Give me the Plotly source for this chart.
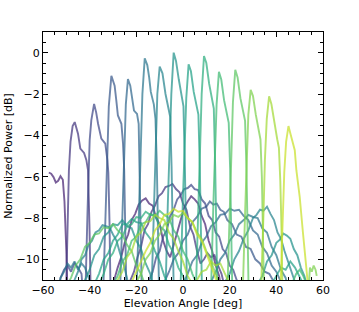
import plotly.graph_objects as go
from plotly.colors import sample_colorscale

# ---- data (angle [deg], normalized power [dB]) ----
ang_b00 = [-57.5, -56.5, -55.5, -54.5, -53.5, -52.5, -51.5, -50.8, -50.0, -49.4,
           -31, -29.5, -28, -26.5, -25, -23.5, -22, -20.5, -19, -17.5, -16, -14.5, -13, -11.5, -10, -8.5, -7, -5.5, -4, -2.5,
           -1, 0.5, 2, 3.5, 5, 6.5, 8, 9.5, 11, 12.5, 14, 15.5, 17]
pwr_b00 = [-5.80, -5.86, -6.02, -6.28, -6.20, -5.98, -6.15, -7.2, -9.6, -12,
           -12, -11.0, -10.4, -9.9, -9.2, -8.8, -8.1, -7.8, -7.35, -7.15, -7.05, -7.3, -7.4, -8.0, -8.3, -9.1, -9.6, -9.9, -9.3, -8.7,
           -8.0, -7.5, -7.2, -6.95, -7.1, -7.3, -7.9, -8.3, -9.1, -9.6, -10.3, -10.8, -12]

ang_b01 = [-50.2, -49.5, -48.9, -48.2, -47.3, -46.4, -45.7, -45.0, -44.0, -43.2, -42.4, -41.4, -40.7, -40.1, -39.5,
           -24, -22.5, -21, -19.5, -18, -16.5, -15, -13.5, -12, -10.5, -9, -7.5, -6, -4.5, -3, -1.5, 0, 1.5, 3, 4.5,
           6, 7.5, 9, 10.5, 12, 13.5, 15, 16.5, 18, 20]
pwr_b01 = [-12, -8.2, -5.7, -4.3, -3.55, -3.36, -3.6, -3.92, -4.64, -4.75, -4.85, -5.2, -5.7, -8.3, -12,
           -12, -11.0, -10.6, -9.9, -9.4, -8.6, -8.3, -7.7, -7.4, -6.95, -6.8, -6.5, -6.45, -6.35, -6.6, -6.75, -7.3, -7.6, -8.4, -8.8,
           -9.6, -10.2, -10.0, -9.7, -9.9, -9.8, -10.3, -10.7, -11.4, -12]

ang_b02 = [-54, -52.5, -51, -49.5, -48, -46.5, -45, -43.5, -42.6,
           -41.9, -40.9, -40.4, -40.0, -39.3, -38.1, -37.2, -36.4, -35.0, -33.3, -32.4, -32.0, -31.5, -31.0,
           -16, -14.5, -13, -11.5, -10, -8.5, -7, -5.5, -4, -2.5, -1, 0.5, 2, 3.5, 5, 6.5, 8, 9.5, 11, 12.5,
           14, 15.5, 17, 18.5, 20, 21.5, 23, 24.5, 26]
pwr_b02 = [-12, -10.9, -10.5, -10.3, -10.6, -10.2, -10.4, -10.7, -12,
           -12, -7.6, -5.7, -4.24, -3.28, -2.48, -2.9, -3.44, -4.16, -4.4, -5.2, -5.8, -8.2, -12,
           -12, -11.0, -10.6, -9.9, -9.6, -8.9, -8.6, -7.9, -7.6, -7.1, -6.9, -6.6, -6.55, -6.4, -6.6, -6.65, -7.1, -7.3, -7.9, -8.1,
           -8.7, -8.9, -9.5, -9.7, -10.3, -10.5, -11.0, -11.3, -12]

ang_b03 = [-34.3, -33.2, -32.6, -31.8, -30.7, -29.3, -28.6, -27.9, -26.4, -25.7, -25.2, -24.7, -24.2,
           -10, -8, -6, -4, -2, 0, 2, 4, 6, 8, 10, 11.5, 13, 14.5, 16, 17.5, 19, 21, 23, 25, 27, 29, 31, 33, 35, 37, 39, 41, 43]
pwr_b03 = [-12, -7.5, -4.8, -2.6, -1.12, -1.6, -2.3, -3.04, -3.44, -4.4, -5.7, -8.2, -12,
           -12, -11.1, -10.6, -10.0, -9.7, -9.1, -8.8, -8.2, -7.95, -7.55, -7.45, -7.2, -7.35, -7.3, -7.6, -7.7, -8.1, -8.3, -8.8, -8.9,
           -9.4, -9.5, -10.0, -10.2, -10.6, -10.7, -11.1, -11.5, -12]

ang_b04 = [-27.1, -26.0, -25.3, -24.5, -23.6, -22.6, -21.0, -19.7, -19.0, -18.6, -18.1, -17.6,
           -2, 0, 2, 4, 6, 8, 10, 12, 14, 16, 18, 20, 22, 24, 26, 28, 30, 32, 34, 36, 38, 40, 42, 44, 45.5]
pwr_b04 = [-12, -7.5, -4.6, -2.5, -1.28, -1.6, -2.8, -2.96, -3.44, -5.7, -8.2, -12,
           -12, -11.2, -10.7, -10.1, -9.8, -9.2, -8.9, -8.4, -8.2, -7.85, -7.8, -7.55, -7.65, -7.6, -7.9, -8.1, -8.6, -8.8, -9.4, -9.7,
           -10.3, -10.6, -11.1, -11.5, -12]

ang_b05 = [-54, -52.5, -51, -49.5, -48, -46.5, -45, -43.5, -42, -40.5, -39, -37,
           -20.0, -18.9, -18.2, -17.4, -16.4, -15.3, -14.5, -13.8, -12.5, -11.8, -11.2, -10.7, -10.2,
           10, 12, 14, 16, 18, 20, 22, 24, 26, 28, 30, 32, 34, 36, 38, 40, 42, 44, 46]
pwr_b05 = [-12, -10.9, -10.6, -10.2, -10.4, -10.1, -10.5, -10.2, -10.4, -10.9, -11.3, -12,
           -12, -7.4, -4.5, -2.0, -0.27, -0.6, -1.2, -1.9, -2.5, -3.2, -5.5, -8.0, -12,
           -12, -11.1, -10.6, -10.0, -9.7, -9.1, -8.8, -8.3, -8.1, -7.85, -7.95, -8.0, -8.5, -8.7, -9.4, -9.8, -10.5, -10.9, -12]

ang_b06 = [-48, -46.5, -45, -43.5, -42, -40.5, -39, -37.5, -36, -34.5, -33, -31.5, -30, -28.5, -27, -25.5, -24, -22.5,
           -13.6, -12.5, -11.8, -11.0, -10.0, -8.8, -7.5, -6.2, -5.5, -4.9, -4.4, -3.9,
           16, 18, 20, 22, 24, 26, 28, 30, 31.5, 33, 34.5, 36, 37.5, 39, 40.5, 42, 43.5, 45, 46.5, 48, 49.5]
pwr_b06 = [-12, -11.0, -10.6, -10.0, -9.8, -9.3, -9.1, -8.7, -8.6, -8.35, -8.4, -8.45, -8.8, -9.1, -9.7, -10.2, -10.9, -12,
           -12, -7.4, -4.5, -2.0, -0.67, -1.0, -2.0, -2.8, -3.1, -5.5, -8.0, -12,
           -12, -11.1, -10.7, -10.0, -9.6, -9.0, -8.6, -8.0, -7.85, -7.6, -7.65, -7.45, -7.8, -8.1, -8.7, -9.0, -9.6, -10.1, -10.7, -11.1, -12]

ang_b07 = [-44, -42, -40, -38, -36, -34, -32, -30, -28, -26, -24, -22, -20, -18, -16, -14, -12,
           -7.6, -6.5, -5.8, -5.0, -4.0, -3.0, -1.8, -0.5, 0.2, 0.8, 1.3, 1.8,
           30, 32, 34, 36, 38, 40, 41.5, 43, 44.5, 46, 47.5, 49, 50.5, 52, 53.5, 55]
pwr_b07 = [-12, -11.0, -10.5, -9.8, -9.5, -8.9, -8.7, -8.3, -8.35, -8.1, -8.4, -8.5, -9.1, -9.5, -10.2, -10.7, -12,
           -12, -7.3, -4.5, -2.0, 0.0, -0.4, -1.3, -2.2, -2.6, -5.5, -8.0, -12,
           -12, -11.2, -10.8, -10.1, -9.8, -9.2, -9.05, -8.75, -8.85, -9.0, -9.5, -9.8, -10.4, -10.8, -11.4, -12]

ang_b08 = [-40, -38, -36, -34, -32, -30, -28, -26, -24, -22, -20, -18, -16, -14, -12, -10, -8, -6, -4.5,
           -1.2, -0.1, 0.6, 1.4, 2.4, 3.4, 4.6, 5.9, 6.6, 7.2, 7.7, 8.2,
           36, 38, 40, 42, 44, 46, 48, 50, 52, 53.5]
pwr_b08 = [-12, -11.2, -10.7, -10.0, -9.7, -9.1, -8.8, -8.3, -8.3, -8.05, -8.2, -8.25, -8.7, -9.0, -9.6, -10.1, -10.8, -11.3, -12,
           -12, -7.3, -4.5, -2.2, -0.56, -0.9, -1.9, -2.6, -3.0, -5.5, -8.0, -12,
           -12, -11.2, -10.8, -10.4, -10.5, -10.1, -10.4, -10.9, -11.3, -12]

ang_b09 = [-38, -36, -34, -32, -30, -28, -26, -24, -22, -20, -18, -16, -14, -12, -10, -8, -6, -4, -2, 0, 2, 3.5,
           5.4, 6.5, 7.2, 8.0, 9.0, 10.0, 11.2, 12.5, 13.2, 13.8, 14.3, 14.8]
pwr_b09 = [-12, -11.2, -10.7, -10.0, -9.7, -9.1, -8.9, -8.4, -8.3, -7.95, -8.0, -7.7, -7.85, -7.9, -8.4, -8.6, -9.3, -9.7, -10.4, -10.8, -11.5, -12,
           -12, -7.3, -4.5, -2.0, -0.16, -0.5, -1.5, -2.3, -2.7, -5.5, -8.0, -12]

ang_b10 = [-32, -30, -28, -26, -24, -22, -20, -18, -16, -14, -12, -10, -8, -6, -4, -2, 0, 2, 4, 6, 7.5,
           11.9, 13.0, 13.7, 14.4, 15.4, 16.4, 17.6, 18.9, 19.6, 20.2, 20.7, 21.2,
           45, 47, 48.5, 50, 51.5, 53, 54.5]
pwr_b10 = [-12, -11.2, -10.8, -10.1, -9.8, -9.1, -8.9, -8.3, -8.2, -7.8, -7.9, -7.65, -7.85, -8.0, -8.6, -8.9, -9.6, -10.0, -10.7, -11.2, -12,
           -12, -7.4, -4.5, -2.5, -0.93, -1.3, -2.3, -3.0, -3.4, -5.6, -8.0, -12,
           -12, -11.1, -10.7, -10.5, -10.8, -11.2, -12]

ang_b11 = [-52, -50, -48, -46, -44, -42, -40, -38, -36, -34, -32, -30, -28, -26, -24, -22, -20, -18, -16, -14,
           18.9, 20.0, 20.7, 21.4, 22.4, 23.4, 24.6, 25.9, 26.6, 27.2, 27.7, 28.2]
pwr_b11 = [-12, -11.3, -10.9, -10.3, -10.0, -9.4, -9.2, -8.8, -8.75, -8.45, -8.5, -8.3, -8.6, -8.8, -9.3, -9.6, -10.3, -10.7, -11.3, -12,
           -12, -7.4, -4.5, -2.4, -0.83, -1.2, -2.2, -3.0, -3.3, -5.6, -8.0, -12]

ang_b12 = [-22, -20, -18, -16, -14, -12, -10, -8, -6, -4, -2, 0, 2, 4, 6, 8, 10, 12, 14, 16, 17.5,
           25.5, 26.6, 27.3, 28.0, 29.0, 30.0, 31.2, 32.5, 33.2, 33.8, 34.3, 34.8,
           53.5, 54.4, 55.2, 56.0, 56.8, 57.3]
pwr_b12 = [-12, -11.1, -10.7, -10.0, -9.7, -9.1, -8.8, -8.3, -8.2, -7.85, -7.95, -7.75, -8.0, -8.2, -8.7, -9.0, -9.6, -10.1, -10.7, -11.2, -12,
           -12, -7.8, -5.0, -3.0, -1.8, -2.1, -3.0, -3.8, -4.2, -6.0, -8.5, -12,
           -12, -10.4, -10.6, -10.3, -10.5, -10.8]

ang_b13 = [-30, -28, -26, -24, -22, -20, -18, -16, -14, -12, -10, -8, -6, -4, -2, 0, 2, 4, 6, 8, 10, 12, 14, 16, 18, 20, 22,
           33.3, 34.5, 35.1, 35.9, 36.9, 37.9, 39.1, 40.4, 41.1, 41.7, 42.2, 42.7]
pwr_b13 = [-12, -11.0, -10.6, -9.9, -9.6, -8.9, -8.7, -8.2, -8.15, -7.85, -8.0, -8.1, -8.7, -9.0, -9.6, -10.1, -10.8, -11.2, -11.0, -10.6, -10.5, -10.1, -10.3, -10.2, -10.7, -11.2, -12,
           -12, -7.8, -5.2, -3.2, -2.11, -2.5, -3.4, -4.2, -4.6, -6.2, -8.5, -12]

ang_b14 = [-24, -22, -20, -18, -16, -14, -12, -10, -8, -6, -4, -2, 0, 2, 4, 6, 8, 10, 12, 14, 16, 17.5,
           41.6, 42.7, 43.4, 44.2, 45.2, 46.1, 47.0, 47.9, 48.6, 49.3, 50.0, 51.4, 52.9, 53.6, 54.2]
pwr_b14 = [-12, -11.1, -10.6, -10.1, -9.6, -9.2, -8.6, -8.3, -7.85, -7.8, -7.55, -7.7, -7.65, -8.0, -8.2, -8.8, -9.1, -9.7, -10.3, -10.8, -11.4, -12,
           -12, -8.2, -5.8, -4.3, -3.55, -3.95, -4.3, -4.72, -5.7, -6.3, -6.96, -8.7, -10.3, -11.0, -12]

beam_angles = [ang_b00, ang_b01, ang_b02, ang_b03, ang_b04, ang_b05, ang_b06, ang_b07,
               ang_b08, ang_b09, ang_b10, ang_b11, ang_b12, ang_b13, ang_b14]
beam_powers = [pwr_b00, pwr_b01, pwr_b02, pwr_b03, pwr_b04, pwr_b05, pwr_b06, pwr_b07,
               pwr_b08, pwr_b09, pwr_b10, pwr_b11, pwr_b12, pwr_b13, pwr_b14]

x_ticks = [-60, -40, -20, 0, 20, 40, 60]
y_ticks = [0, -2, -4, -6, -8, -10]

n = len(beam_angles)
colors = sample_colorscale("Viridis", [0.1 + 0.82 * i / (n - 1) for i in range(n)])

fig = go.Figure()
for i, (a, p) in enumerate(zip(beam_angles, beam_powers)):
    fig.add_trace(go.Scatter(x=a, y=p, mode="lines",
                             line=dict(color=colors[i], width=1.9),
                             opacity=0.72, showlegend=False, hoverinfo="skip"))

axis_common = dict(showline=True, linecolor="black", linewidth=1.2, mirror="ticks",
                   ticks="inside", ticklen=5, tickwidth=1.2, tickcolor="black",
                   showgrid=False, zeroline=False, automargin=False,
                   tickfont=dict(family="DejaVu Sans", size=11, color="black"))

fig.update_layout(
    width=359, height=312,
    margin=dict(l=43, r=36, t=32, b=32),
    paper_bgcolor="white", plot_bgcolor="white",
    font=dict(family="DejaVu Sans", size=11, color="black"),
)
fig.update_xaxes(range=[-60, 60], tickvals=x_ticks,
                 minor=dict(dtick=5, ticks="inside", ticklen=3, tickcolor="black", tickwidth=1),
                 title=dict(text="Elevation Angle [deg]", font=dict(size=11), standoff=3),
                 **axis_common)
fig.update_yaxes(range=[-11, 1], tickvals=y_ticks,
                 minor=dict(dtick=0.5, ticks="inside", ticklen=3, tickcolor="black", tickwidth=1),
                 title=dict(text="Normalized Power [dB]", font=dict(size=11), standoff=1),
                 **axis_common)

fig.write_html("out.html", config={"displayModeBar": False},
               post_script="document.body.style.margin='0';document.body.style.overflow='hidden';")
